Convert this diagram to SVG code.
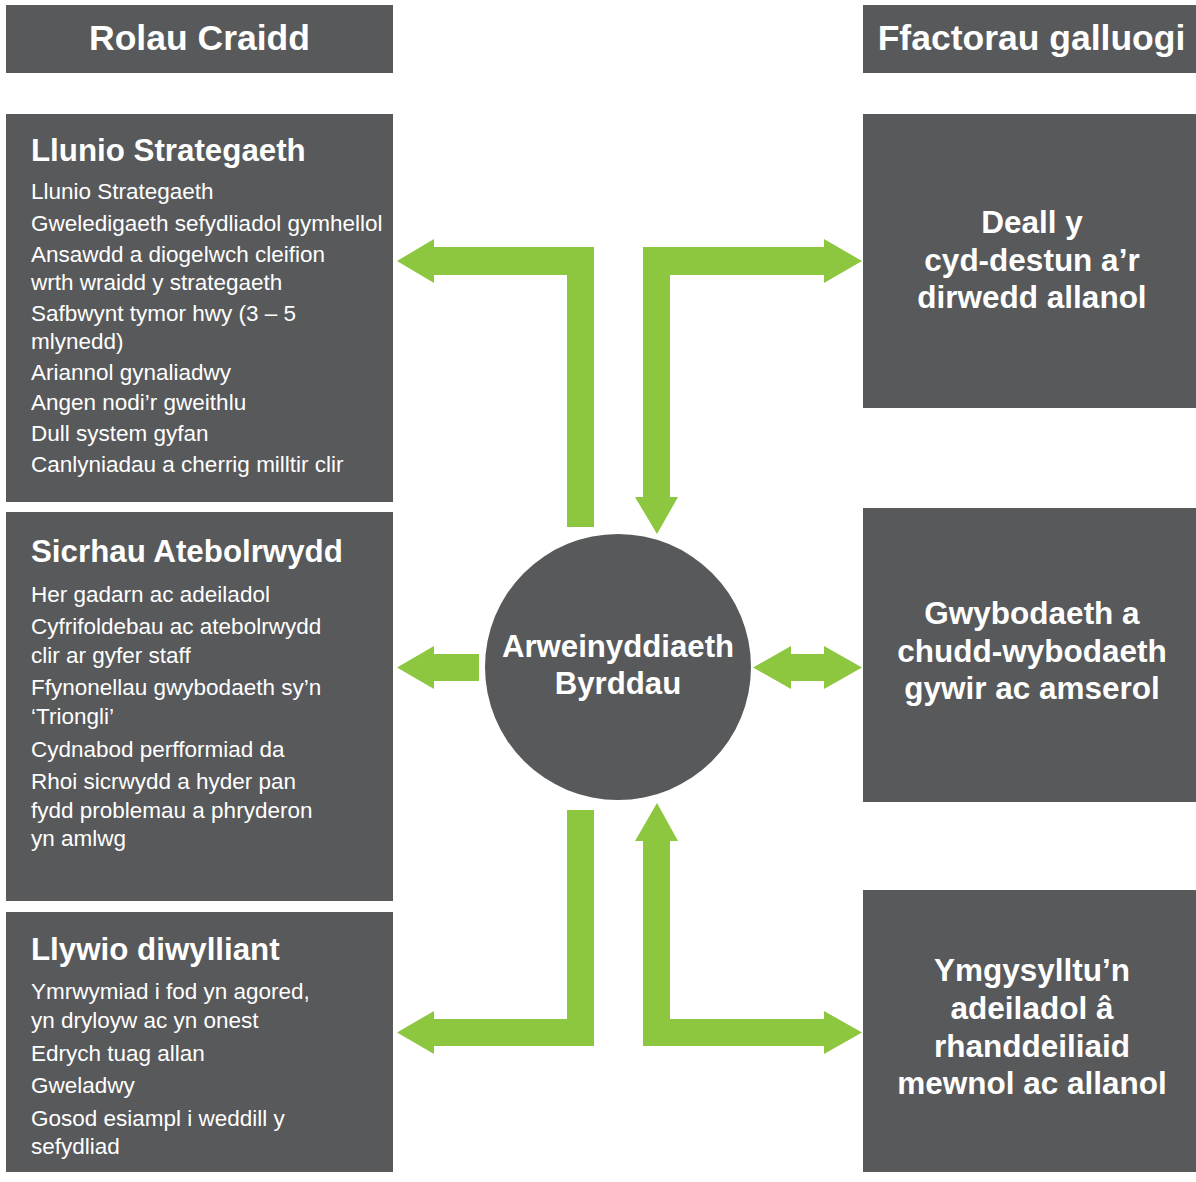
<svg xmlns="http://www.w3.org/2000/svg" width="1196" height="1182" viewBox="0 0 1196 1182">
<style>
.box{fill:#58595b}
.arrow{fill:#8dc63f}
.hdr{font-family:"Liberation Sans",Arial,sans-serif;font-weight:bold;font-size:35.5px;fill:#fff;text-anchor:middle}
.ttl{font-family:"Liberation Sans",Arial,sans-serif;font-weight:bold;font-size:31.3px;fill:#fff}
.itm{font-family:"Liberation Sans",Arial,sans-serif;font-size:22.5px;fill:#fff}
.ctr{font-family:"Liberation Sans",Arial,sans-serif;font-weight:bold;font-size:31.5px;fill:#fff;text-anchor:middle}
.cir{font-family:"Liberation Sans",Arial,sans-serif;font-weight:bold;font-size:31.2px;fill:#fff;text-anchor:middle}
</style>
<rect width="1196" height="1182" fill="#fff"/>
<g id="header-left">
<rect class="box" x="6" y="5" width="387" height="68"/>
<text class="hdr" x="199.5" y="50">Rolau Craidd</text>
</g>
<g id="header-right">
<rect class="box" x="863" y="5" width="333" height="68"/>
<text class="hdr" x="1031.5" y="50">Ffactorau galluogi</text>
</g>
<g id="llunio-strategaeth">
<rect class="box" x="6" y="114" width="387" height="388"/>
<text class="ttl" x="31" y="160.5">Llunio Strategaeth</text>
<text class="itm" x="31" y="199">Llunio Strategaeth</text>
<text class="itm" x="31" y="231">Gweledigaeth sefydliadol gymhellol</text>
<text class="itm" x="31" y="262">Ansawdd a diogelwch cleifion</text>
<text class="itm" x="31" y="290">wrth wraidd y strategaeth</text>
<text class="itm" x="31" y="320.5">Safbwynt tymor hwy (3 – 5</text>
<text class="itm" x="31" y="348.5">mlynedd)</text>
<text class="itm" x="31" y="379.5">Ariannol gynaliadwy</text>
<text class="itm" x="31" y="410">Angen nodi’r gweithlu</text>
<text class="itm" x="31" y="441">Dull system gyfan</text>
<text class="itm" x="31" y="471.5">Canlyniadau a cherrig milltir clir</text>
</g>
<g id="sicrhau-atebolrwydd">
<rect class="box" x="6" y="512" width="387" height="389"/>
<text class="ttl" x="31" y="562">Sicrhau Atebolrwydd</text>
<text class="itm" x="31" y="601.5">Her gadarn ac adeiladol</text>
<text class="itm" x="31" y="634">Cyfrifoldebau ac atebolrwydd</text>
<text class="itm" x="31" y="662.5">clir ar gyfer staff</text>
<text class="itm" x="31" y="695">Ffynonellau gwybodaeth sy’n</text>
<text class="itm" x="31" y="723.5">‘Triongli’</text>
<text class="itm" x="31" y="756.5">Cydnabod perfformiad da</text>
<text class="itm" x="31" y="789">Rhoi sicrwydd a hyder pan</text>
<text class="itm" x="31" y="818">fydd problemau a phryderon</text>
<text class="itm" x="31" y="846">yn amlwg</text>
</g>
<g id="llywio-diwylliant">
<rect class="box" x="6" y="912" width="387" height="260"/>
<text class="ttl" x="31" y="960">Llywio diwylliant</text>
<text class="itm" x="31" y="999">Ymrwymiad i fod yn agored,</text>
<text class="itm" x="31" y="1028">yn dryloyw ac yn onest</text>
<text class="itm" x="31" y="1061">Edrych tuag allan</text>
<text class="itm" x="31" y="1093">Gweladwy</text>
<text class="itm" x="31" y="1126">Gosod esiampl i weddill y</text>
<text class="itm" x="31" y="1154">sefydliad</text>
</g>
<g id="deall-cyd-destun">
<rect class="box" x="863" y="114" width="333" height="294"/>
<text class="ctr" x="1032" y="233">Deall y</text>
<text class="ctr" x="1032" y="270.5">cyd-destun a’r</text>
<text class="ctr" x="1032" y="308">dirwedd allanol</text>
</g>
<g id="gwybodaeth">
<rect class="box" x="863" y="508" width="333" height="294"/>
<text class="ctr" x="1032" y="624">Gwybodaeth a</text>
<text class="ctr" x="1032" y="661.5">chudd-wybodaeth</text>
<text class="ctr" x="1032" y="699">gywir ac amserol</text>
</g>
<g id="ymgysylltu">
<rect class="box" x="863" y="890" width="333" height="282"/>
<text class="ctr" x="1032" y="981">Ymgysylltu’n</text>
<text class="ctr" x="1032" y="1019">adeiladol â</text>
<text class="ctr" x="1032" y="1057">rhanddeiliaid</text>
<text class="ctr" x="1032" y="1094">mewnol ac allanol</text>
</g>
<g id="arweinyddiaeth-byrddau">
<circle class="box" cx="618" cy="667" r="133"/>
<text class="cir" x="618" y="657">Arweinyddiaeth</text>
<text class="cir" x="618" y="694">Byrddau</text>
</g>
<g id="connectors">
<polygon class="arrow" points="594,247 594,527 567,527 567,275 434,275 434,283 397,261 434,239 434,247"/>
<polygon class="arrow" points="643,247 824,247 824,239 862,261 824,283 824,275 670,275 670,497 678,497 657,534 635,497 643,497"/>
<polygon class="arrow" points="479,654 479,681 434,681 434,689 397,667.5 434,646 434,654"/>
<polygon class="arrow" points="753,667.5 791,646 791,654 824,654 824,646 862,667.5 824,689 824,681 791,681 791,689"/>
<polygon class="arrow" points="567,810 594,810 594,1046 434,1046 434,1054 397,1032.5 434,1011 434,1019 567,1019"/>
<polygon class="arrow" points="657,803 678,841 670,841 670,1019 824,1019 824,1011 862,1032.5 824,1054 824,1046 643,1046 643,841 635,841"/>
</g>
</svg>
